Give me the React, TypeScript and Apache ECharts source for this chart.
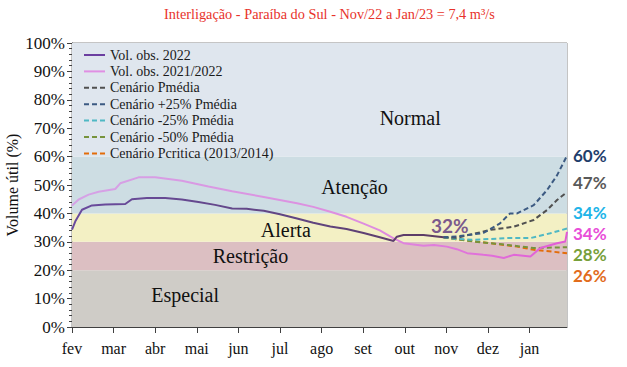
import React, { useEffect, useRef } from "react";
import * as echarts from "echarts";

// x in months since 1 Feb 2022 (0 = fev, 11 = jan), y in % of useful volume
const months = ["fev", "mar", "abr", "mai", "jun", "jul", "ago", "set", "out", "nov", "dez", "jan"];

const obs2022: [number, number][] = [
  [0.0, 34.3], [0.08, 37.2], [0.24, 41.3], [0.48, 42.8], [0.8, 43.1], [1.28, 43.3],
  [1.44, 45.0], [1.8, 45.4], [2.24, 45.4], [2.64, 44.9], [3.04, 44.0], [3.44, 43.0],
  [3.85, 41.7], [4.2, 41.6], [4.61, 40.9], [5.0, 39.7], [5.41, 38.2], [5.8, 36.7],
  [6.21, 35.4], [6.6, 34.5], [7.01, 33.1], [7.4, 31.6], [7.73, 30.3], [7.81, 31.8],
  [7.97, 32.4], [8.45, 32.4], [8.93, 31.6],
];

const obs2122: [number, number][] = [
  [0.0, 42.8], [0.16, 44.9], [0.4, 46.6], [0.64, 47.6], [1.04, 48.6], [1.16, 50.6],
  [1.6, 52.7], [2.0, 52.7], [2.64, 51.5], [3.28, 49.5], [3.85, 47.8], [4.61, 45.8],
  [5.41, 43.6], [5.8, 42.3], [6.21, 40.6], [6.6, 38.8], [7.01, 36.4], [7.4, 34.0],
  [7.73, 31.2], [7.97, 29.5], [8.45, 28.6], [8.7, 28.9], [9.01, 28.3], [9.25, 27.4],
  [9.5, 26.0], [9.89, 25.4], [10.1, 25.1], [10.38, 24.3], [10.62, 25.4], [11.02, 24.8],
  [11.26, 27.8], [11.66, 29.5], [11.86, 30.1], [11.9, 33.5],
];

const cenPmedia: [number, number][] = [
  [8.93, 31.6], [9.25, 31.4], [9.65, 32.8], [10.06, 34.2], [10.62, 35.3], [11.1, 37.7],
  [11.42, 41.2], [11.66, 44.7], [11.9, 47.5],
];
const cenMais25: [number, number][] = [
  [8.93, 31.6], [9.25, 31.9], [9.89, 33.1], [10.29, 36.5], [10.53, 40.0], [10.7, 40.0],
  [11.1, 42.9], [11.42, 48.2], [11.66, 53.4], [11.9, 60.3],
];
const cenMenos25: [number, number][] = [
  [8.93, 31.6], [9.25, 31.0], [9.65, 30.7], [10.46, 31.3], [11.02, 31.3], [11.5, 33.0],
  [11.9, 34.7],
];
const cenMenos50: [number, number][] = [
  [8.93, 31.6], [9.25, 30.9], [9.65, 30.1], [10.46, 28.9], [11.1, 27.8], [11.9, 28.1],
];
const cenPcritica: [number, number][] = [
  [8.93, 31.6], [9.25, 30.9], [10.06, 29.5], [10.7, 28.3], [11.1, 27.2], [11.9, 26.0],
];

const bandLimits = [0, 20, 30, 40, 60, 100];
const bandNames = ["Especial", "Restrição", "Alerta", "Atenção", "Normal"];
const bandLabelAt: [number, number][] = [
  [2.72, 11.3], [4.29, 25.0], [5.14, 34.2], [6.79, 49.4], [8.13, 73.6],
];

const endLabels = ["60%", "47%", "34%", "34%", "28%", "26%"];
const lastObsLabel = "32%";

const SERIF = "'Liberation Serif', 'DejaVu Serif', serif";
const SANS = "Lato, 'Open Sans', sans-serif";

const bandColors = ["#cfccc7", "#dcbfc2", "#f3f0c4", "#cddde3", "#dfe6ee"];
const endColors = ["#1f3e6c", "#595959", "#20b4e8", "#e84ed8", "#77a03a", "#e26c1c"];
const endY = [155, 182.7, 212.5, 233, 254, 275.5];

const SOLID_ICON = "path://M0,0h21v2h-21z";
const DASH_ICON = "path://M0,0h5v2h-5zM8,0h5v2h-5zM16,0h5v2h-5z";

export default function App() {
  const ref = useRef<HTMLDivElement>(null);
  useEffect(() => {
    if (!ref.current) return;
    const chart = echarts.init(ref.current, undefined, { renderer: "svg" });

    const dashed = (name: string, data: [number, number][], color: string) => ({
      name,
      type: "line",
      data,
      symbol: "none",
      z: 3,
      lineStyle: { color, width: 2, type: [5, 3] },
      itemStyle: { color },
    });

    const legendItem = (name: string, color: string, solid: boolean) => ({
      name,
      icon: solid ? SOLID_ICON : DASH_ICON,
      itemStyle: { color, borderWidth: 0 },
    });

    const option: any = {
      animation: false,
      backgroundColor: "#ffffff",
      title: {
        text: "Interligação - Paraíba do Sul - Nov/22 a Jan/23 = 7,4 m³/s",
        left: 159,
        top: 2,
        textStyle: { fontFamily: SERIF, fontSize: 14.3, fontWeight: "normal", color: "#e8332b" },
      },
      grid: {
        left: 72, right: 60, top: 43, bottom: 40,
        containLabel: false,
        outerBoundsMode: "none",
        show: true, borderColor: "#8a8a8a", borderWidth: 1, backgroundColor: "transparent",
      },
      legend: {
        data: [
          legendItem("Vol. obs. 2022", "#6b3fa0", true),
          legendItem("Vol. obs. 2021/2022", "#e08fe3", true),
          legendItem("Cenário Pmédia", "#505050", false),
          legendItem("Cenário +25% Pmédia", "#3c5a82", false),
          legendItem("Cenário -25% Pmédia", "#4fb8c4", false),
          legendItem("Cenário -50% Pmédia", "#77933c", false),
          legendItem("Cenário Pcritica (2013/2014)", "#e36c0a", false),
        ],
        orient: "vertical",
        left: 84,
        top: 48,
        padding: 0,
        itemWidth: 21,
        itemHeight: 2,
        itemGap: 2.4,
        textStyle: { fontFamily: SERIF, fontSize: 14, color: "#1a1a1a", lineHeight: 14 },
      },
      xAxis: {
        type: "value",
        min: 0,
        max: 11.9,
        interval: 1,
        axisLine: { show: true, lineStyle: { color: "#404040" } },
        axisTick: { show: true, length: 6, lineStyle: { color: "#404040" } },
        axisLabel: {
          formatter: (v: number) => (Number.isInteger(v) && v >= 0 && v < months.length ? months[v] : ""),
          fontFamily: SERIF, fontSize: 16, color: "#111", margin: 13, showMaxLabel: false,
        },
        splitLine: { show: false },
      },
      yAxis: {
        type: "value",
        min: 0,
        max: 100,
        interval: 10,
        name: "Volume útil (%)",
        nameLocation: "middle",
        nameGap: 52,
        nameMoveOverlap: false,
        nameTextStyle: { fontFamily: SERIF, fontSize: 16, color: "#111" },
        axisLine: { show: true, lineStyle: { color: "#404040" } },
        axisTick: { show: true, length: 5, lineStyle: { color: "#404040" } },
        minorTick: { show: true, splitNumber: 5, length: 3, lineStyle: { color: "#404040" } },
        axisLabel: { formatter: "{value}%", fontFamily: SERIF, fontSize: 17, color: "#111", margin: 7 },
        splitLine: { show: false },
      },
      series: [
        {
          name: "bands",
          type: "line",
          data: [],
          z: 1,
          silent: true,
          markArea: {
            silent: true,
            data: bandNames.map((n, i) => [
              { yAxis: bandLimits[i], itemStyle: { color: bandColors[i] } },
              { yAxis: bandLimits[i + 1] },
            ]),
          },
          markPoint: {
            silent: true,
            symbol: "circle",
            symbolSize: 1,
            itemStyle: { color: "rgba(0,0,0,0)" },
            label: {
              show: true, position: "inside", formatter: "{b}",
              fontFamily: SERIF, fontSize: 20, color: "#111",
            },
            data: bandNames.map((n, i) => ({ name: n, coord: bandLabelAt[i] })),
          },
        },
        dashed("Cenário Pcritica (2013/2014)", cenPcritica, "#e36c0a"),
        dashed("Cenário -50% Pmédia", cenMenos50, "#77933c"),
        dashed("Cenário -25% Pmédia", cenMenos25, "#4fb8c4"),
        dashed("Cenário Pmédia", cenPmedia, "#505050"),
        dashed("Cenário +25% Pmédia", cenMais25, "#3c5a82"),
        {
          name: "Vol. obs. 2021/2022",
          type: "line",
          data: obs2122,
          symbol: "none",
          z: 4,
          lineStyle: {
            width: 2,
            color: new echarts.graphic.LinearGradient(0, 0, 1, 0, [
              { offset: 0, color: "#d5a3e6" },
              { offset: 0.6, color: "#de8ddf" },
              { offset: 1, color: "#e25ad6" },
            ]),
          },
          itemStyle: { color: "#e08fe3" },
        },
        {
          name: "Vol. obs. 2022",
          type: "line",
          data: obs2022,
          symbol: "none",
          z: 5,
          lineStyle: {
            width: 2,
            color: new echarts.graphic.LinearGradient(0, 0, 1, 0, [
              { offset: 0, color: "#6a4b9e" },
              { offset: 0.6, color: "#614682" },
              { offset: 1, color: "#5c3b62" },
            ]),
          },
          itemStyle: { color: "#6b3fa0" },
          markPoint: {
            silent: true,
            symbol: "circle",
            symbolSize: 1,
            itemStyle: { color: "rgba(0,0,0,0)" },
            label: {
              show: true, position: "inside", formatter: lastObsLabel,
              fontFamily: SANS, fontWeight: "bold", fontSize: 19, color: "#7b5a8c",
            },
            data: [{ name: "last", coord: [9.08, 35.7] }],
          },
        },
      ],
      graphic: endLabels.map((t, i) => ({
        type: "text",
        x: 573,
        y: endY[i],
        style: {
          text: t,
          fill: endColors[i],
          font: `bold 17px ${SANS}`,
          align: "left",
          verticalAlign: "middle",
        },
      })),
    };

    chart.setOption(option);
    return () => chart.dispose();
  }, []);

  return (
    <div
      ref={ref}
      style={{ position: "fixed", left: 0, top: 0, width: 627, height: 367, background: "#fff" }}
    />
  );
}
